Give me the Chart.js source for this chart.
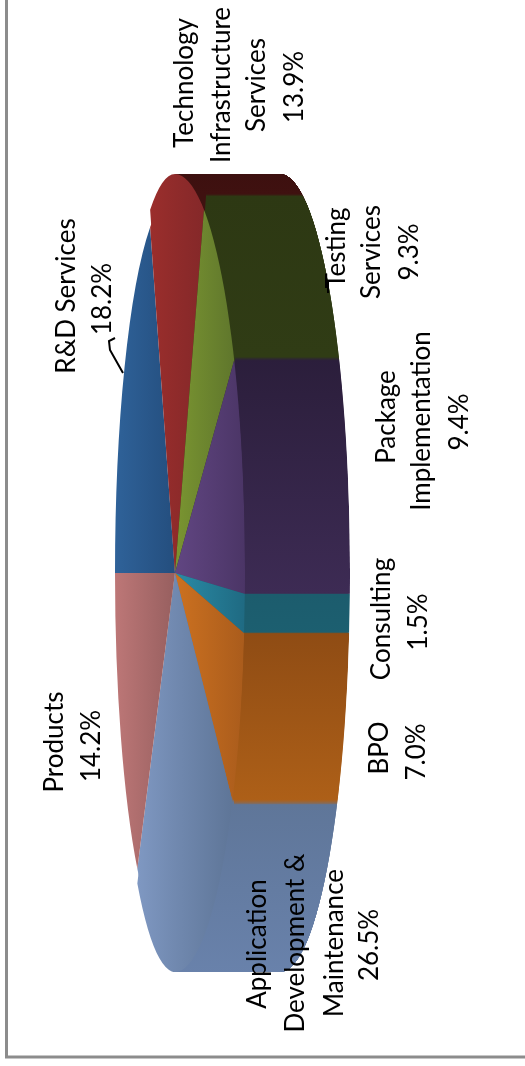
<!DOCTYPE html>
<html>
<head>
<meta charset="utf-8">
<title>Revenue mix by service line</title>
<script src="https://cdn.jsdelivr.net/npm/chart.js@4"></script>
<style>
    html, body { margin: 0; padding: 0; background: #fff; overflow: hidden; }
    canvas { display: block; }
</style>
</head>
<body>
<canvas id="mixChart" width="525" height="1066"></canvas>
<script>
// Service lines, clockwise from the left edge of the pie
const categories = ['R&D Services', 'Technology Infrastructure Services', 'Testing Services',
    'Package Implementation', 'Consulting', 'BPO', 'Application Development & Maintenance', 'Products'];
const shares = [18.2, 13.9, 9.3, 9.4, 1.5, 7.0, 26.5, 14.2];
const labelLines = [
    ['R&D Services'],
    ['Technology', 'Infrastructure', 'Services'],
    ['Testing', 'Services'],
    ['Package', 'Implementation'],
    ['Consulting'],
    ['BPO'],
    ['Application', 'Development &', 'Maintenance'],
    ['Products']
];

// Slice fills: top face light to dark, side wall far to near
const topLight = ['#2f6299', '#9b2e2c', '#7a9531', '#614682', '#2a8ba6', '#cc7120', '#7f98c2', '#bd7777'];
const topDark = ['#244e7e', '#842829', '#5f762c', '#4b3566', '#1f6a82', '#aa5c1c', '#5e7597', '#975f5f'];
const wallFar = ['#224a78', '#3b0f0e', '#2d3813', '#2b1e3b', '#1c5c6d', '#8f4c14', '#5f7699', '#975f5f'];
const wallNear = ['#224a78', '#3f1110', '#303c15', '#3d2b54', '#1c5f70', '#ae6018', '#6a83ad', '#975f5f'];

// Baseline x of each label line and the y it is centred on
const labelSpots = [
    { x: [75, 111], y: [296, 299] },
    { x: [193, 230, 265, 303], y: [83, 85, 85, 87] },
    { x: [345, 380, 418], y: [248, 252, 252] },
    { x: [395, 430, 468], y: [417, 421, 422] },
    { x: [390, 427], y: [619, 622] },
    { x: [388, 425], y: [748, 752] },
    { x: [266, 304, 343, 378], y: [944, 943, 943, 945] },
    { x: [63, 100], y: [742, 746] }
];

// Projection of the flat pie onto the tilted disc. The near half is stretched
// and the far half squeezed along the long axis to fake perspective.
const pieX = 175;
const pieY = 573;
const pieB = 399;
const farA = 60;
const nearA = 70;
const farB = 380;
const nearB = 420;
const depth = 105;
// Slices crossing the long axis, also painted at full length under the far half
const axisSlices = [1, 6];

function sliceExtent(arc) {
    const r = arc.outerRadius;
    const e = { minX: 0, maxX: 0, minY: r, maxY: -r };
    for (let i = 0; i <= 40; i++) {
        const t = arc.startAngle + (arc.endAngle - arc.startAngle) * i / 40;
        e.minX = Math.min(e.minX, r * Math.cos(t));
        e.maxX = Math.max(e.maxX, r * Math.cos(t));
        e.minY = Math.min(e.minY, r * Math.sin(t));
        e.maxY = Math.max(e.maxY, r * Math.sin(t));
    }
    return e;
}

function paintArc(ctx, arc, fill, a, b, shift) {
    const r = arc.outerRadius;
    const saved = arc.options;
    ctx.save();
    ctx.translate(pieX + shift, pieY);
    ctx.scale(a / r, b / r);
    ctx.translate(-arc.x, -arc.y);
    arc.options = Object.assign({}, saved, { backgroundColor: fill });
    arc.draw(ctx);
    arc.options = saved;
    ctx.restore();
}

const tiltedPie = {
    id: 'tiltedPie',
    beforeDatasetsDraw(chart) {
        const ctx = chart.ctx;
        const arcs = chart.getDatasetMeta(0).data;
        const w = chart.width;
        const h = chart.height;

        const wallFills = arcs.map(function(arc, i) {
            const e = sliceExtent(arc);
            const g = ctx.createLinearGradient(0, arc.y + e.minY, 0, arc.y + e.maxY);
            g.addColorStop(0, wallFar[i]);
            g.addColorStop(1, wallNear[i]);
            return g;
        });
        const topFills = arcs.map(function(arc, i) {
            const e = sliceExtent(arc);
            const g = ctx.createLinearGradient(arc.x + e.minX, 0, arc.x + e.maxX, 0);
            g.addColorStop(0, topLight[i]);
            g.addColorStop(1, topDark[i]);
            return g;
        });

        // Side wall: the near half swept away from the top face
        ctx.save();
        ctx.beginPath();
        ctx.rect(pieX, 0, w - pieX, h);
        ctx.clip();
        ctx.beginPath();
        ctx.ellipse(pieX + depth, pieY, nearA, pieB, 0, 0, Math.PI * 2);
        ctx.rect(pieX, pieY - pieB, depth, pieB * 2);
        ctx.clip();
        for (let d = depth; d >= 1; d--) {
            arcs.forEach(function(arc, i) {
                paintArc(ctx, arc, wallFills[i], nearA, nearB, d);
            });
        }
        ctx.restore();

        // Top face, near half
        ctx.save();
        ctx.beginPath();
        ctx.rect(pieX, 0, w - pieX, h);
        ctx.clip();
        ctx.beginPath();
        ctx.ellipse(pieX, pieY, nearA, pieB, 0, 0, Math.PI * 2);
        ctx.clip();
        arcs.forEach(function(arc, i) {
            paintArc(ctx, arc, topFills[i], nearA, nearB, 0);
        });
        ctx.restore();

        // Top face, far half
        ctx.save();
        ctx.beginPath();
        ctx.rect(0, 0, pieX, h);
        ctx.clip();
        axisSlices.forEach(function(i) {
            paintArc(ctx, arcs[i], topFills[i], farA, pieB, 0);
        });
        arcs.forEach(function(arc, i) {
            paintArc(ctx, arc, topFills[i], farA, farB, 0);
        });
        ctx.restore();
        return false;
    },
    afterDraw(chart) {
        const ctx = chart.ctx;

        // Frame around the figure
        ctx.save();
        ctx.strokeStyle = '#8c8c8c';
        ctx.lineWidth = 3;
        ctx.strokeRect(6.5, -10, 600, 1067);

        // Leader lines
        ctx.strokeStyle = '#000';
        ctx.lineWidth = 2;
        ctx.beginPath();
        ctx.moveTo(115, 338);
        ctx.lineTo(109, 341);
        ctx.lineTo(110, 350);
        ctx.lineTo(123, 373);
        ctx.stroke();
        ctx.beginPath();
        ctx.moveTo(328, 280);
        ctx.lineTo(328, 293);
        ctx.stroke();
        ctx.restore();

        // Labels read bottom to top
        ctx.save();
        ctx.fillStyle = '#000';
        ctx.font = '26px Lato, "Open Sans", sans-serif';
        ctx.textAlign = 'center';
        ctx.textBaseline = 'alphabetic';
        categories.forEach(function(name, i) {
            const lines = labelLines[i].concat(shares[i].toFixed(1) + '%');
            lines.forEach(function(text, j) {
                ctx.save();
                ctx.translate(labelSpots[i].x[j], labelSpots[i].y[j]);
                ctx.rotate(-Math.PI / 2);
                ctx.fillText(text, 0, 0);
                ctx.restore();
            });
        });
        ctx.restore();
    }
};

new Chart(document.getElementById('mixChart').getContext('2d'), {
    type: 'pie',
    data: {
        labels: categories,
        datasets: [{
            data: shares,
            borderWidth: 0
        }]
    },
    options: {
        responsive: false,
        animation: false,
        rotation: -90,
        plugins: {
            legend: { display: false },
            tooltip: { enabled: false }
        }
    },
    plugins: [tiltedPie]
});
</script>
</body>
</html>
